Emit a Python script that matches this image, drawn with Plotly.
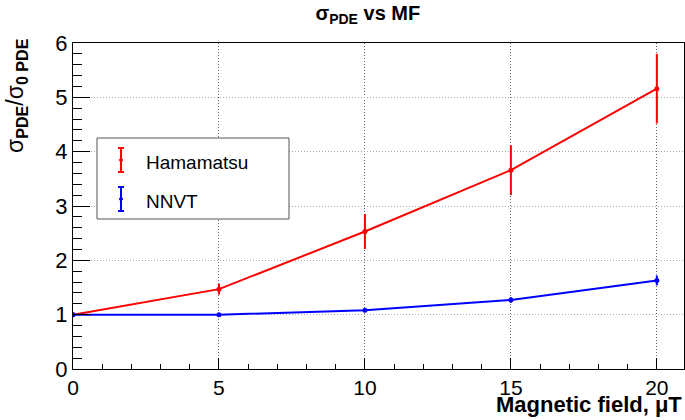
import plotly.graph_objects as go

field = [0, 5, 10, 15, 20]
ham_ratio = [1.0, 1.47, 2.53, 3.66, 5.16]
ham_err = [0.0, 0.10, 0.32, 0.46, 0.64]
nnvt_ratio = [1.0, 1.0, 1.08, 1.27, 1.63]
nnvt_err = [0.0, 0.02, 0.03, 0.05, 0.09]
x_ticks = [0, 5, 10, 15, 20]
y_ticks = [0, 1, 2, 3, 4, 5, 6]
series_names = ["Hamamatsu", "NNVT"]

RED = "#ff0000"
BLUE = "#0000ff"
FONT = "Liberation Sans, Arial, Helvetica, sans-serif"

# plot area in pixels
L, R, T, B = 73, 684, 43, 369
W, H = R - L, B - T

def px(xp):
    return (xp - L) / W

def py(yp):
    return (B - yp) / H

fig = go.Figure()
for name, yv, ev, col in [(series_names[0], ham_ratio, ham_err, RED),
                          (series_names[1], nnvt_ratio, nnvt_err, BLUE)]:
    fig.add_trace(go.Scatter(
        x=field, y=yv, mode="lines+markers", name=name, showlegend=False,
        line=dict(color=col, width=2),
        marker=dict(color=col, size=5),
        error_y=dict(type="data", array=ev, visible=True, color=col, thickness=2, width=0),
    ))

fig.update_layout(
    width=685, height=420,
    margin=dict(l=L, r=685 - R, t=T, b=420 - B),
    paper_bgcolor="white", plot_bgcolor="white",
    font=dict(family=FONT, color="black"),
    title=dict(text="<b>σ<sub>PDE</sub> vs MF</b>", x=0.537, xanchor="center",
               y=1 - 13 / 420, yanchor="middle", font=dict(size=20)),
    showlegend=False,
)
fig.update_xaxes(
    range=[0, 20.93], tickvals=x_ticks, ticktext=[str(v) for v in x_ticks],
    ticks="inside", ticklen=11, tickwidth=1, tickcolor="black",
    minor=dict(ticks="inside", ticklen=5, dtick=1, tickcolor="black", showgrid=False),
    showline=True, linecolor="black", linewidth=1, mirror=True,
    showgrid=True, gridcolor="#666", griddash="1px,2px", gridwidth=1,
    zeroline=False, tickfont=dict(size=21), automargin=False,
)
fig.update_yaxes(
    range=[0, 6], tickvals=y_ticks, ticktext=[str(v) for v in y_ticks],
    ticks="inside", ticklen=17, tickwidth=1, tickcolor="black",
    minor=dict(ticks="inside", ticklen=9, dtick=0.2, tickcolor="black", showgrid=False),
    showline=True, linecolor="black", linewidth=1, mirror=True,
    showgrid=True, gridcolor="#aaa", griddash="1px,2px", gridwidth=1,
    zeroline=False, tickfont=dict(size=22), automargin=False,
)
# axis titles
fig.add_annotation(
    text="<b>Magnetic field, μT</b>", xref="paper", yref="paper",
    x=1, y=0, xanchor="right", yanchor="top", yshift=-21, showarrow=False,
    font=dict(size=22),
)
fig.add_annotation(
    text="σ<sub><b>PDE</b></sub>/σ<sub><b>0 PDE</b></sub>", xref="paper", yref="paper",
    x=px(17), y=py(96), xanchor="center", yanchor="middle", textangle=-90, showarrow=False,
    font=dict(size=23),
)

# legend box (ROOT style)
fig.add_shape(type="rect", xref="paper", yref="paper",
              x0=px(97), x1=px(289), y0=py(219), y1=py(138),
              line=dict(color="#555", width=1), fillcolor="white", layer="above")
for name, col, yc in [(series_names[0], RED, 160), (series_names[1], BLUE, 199)]:
    fig.add_shape(type="line", xref="paper", yref="paper",
                  x0=px(121), x1=px(121), y0=py(yc - 12), y1=py(yc + 12),
                  line=dict(color=col, width=2), layer="above")
    for cy in (yc - 12, yc + 12):
        fig.add_shape(type="line", xref="paper", yref="paper",
                      x0=px(118), x1=px(124), y0=py(cy), y1=py(cy),
                      line=dict(color=col, width=2), layer="above")
    fig.add_shape(type="circle", xref="paper", yref="paper",
                  x0=px(119.5), x1=px(122.5), y0=py(yc - 1.5), y1=py(yc + 1.5),
                  line=dict(color=col, width=1), fillcolor=col, layer="above")
    fig.add_annotation(text=name, xref="paper", yref="paper",
                       x=px(144), y=py(yc + 2), xanchor="left", yanchor="middle",
                       showarrow=False, font=dict(size=19))

fig.write_html("out.html", post_script="document.body.style.margin='0px';",
               config={"displayModeBar": False})
